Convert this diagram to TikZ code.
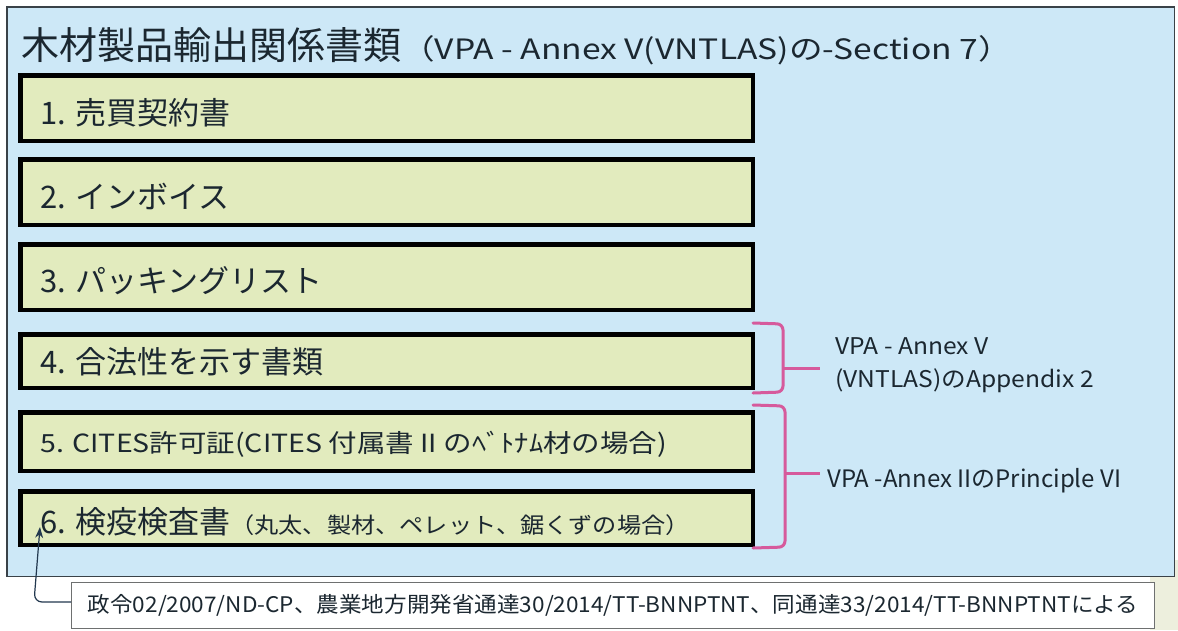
\documentclass[tikz,border=0pt]{standalone}
\usepackage{fontspec}
\setmainfont{Noto Sans CJK JP}
\newfontfamily\widetitle[FakeStretch=1.2]{Noto Sans CJK JP}
\newfontfamily\widefive[FakeStretch=1.14]{Noto Sans CJK JP}
\newfontfamily\widesix[FakeStretch=1.1]{Noto Sans CJK JP}
\newfontfamily\widenote[FakeStretch=1.05]{Noto Sans CJK JP}
\newfontfamily\wideref[FakeStretch=1.07]{Noto Sans CJK JP}
\usetikzlibrary{arrows.meta}
\definecolor{panelblue}{HTML}{CDE8F7}
\definecolor{boxfill}{HTML}{E2EBBE}
\definecolor{pinkline}{HTML}{D65A9C}
\definecolor{textdark}{HTML}{1B2730}
\definecolor{panelframe}{HTML}{3A4248}
\definecolor{arrowblue}{HTML}{22384F}
\definecolor{notegray}{HTML}{6E7070}
\definecolor{beigebg}{HTML}{EDEFDD}
\begin{document}
\begin{tikzpicture}[x=1pt,y=-1pt,
  docbox/.style={draw=black, line width=4.5pt, fill=boxfill, inner sep=0pt, minimum width=732.5pt},
  doctext/.style={anchor=base west, inner sep=0pt, text=textdark, font=\fontsize{31}{36}\selectfont},
  bracketline/.style={draw=pinkline, line width=3pt, line cap=round, rounded corners=6pt},
  reftext/.style={anchor=base west, inner sep=0pt, text=textdark, font=\wideref\fontsize{23}{28}\selectfont},
  notebox/.style={draw=notegray, fill=white, line width=1.2pt, inner sep=0pt, text=textdark, font=\widenote\fontsize{21.5}{26}\selectfont}]
\fill[white] (0,0) rectangle (1178,630);
\useasboundingbox (0,0) rectangle (1178,630);
\fill[beigebg] (1150,560) rectangle (1178,630);
% panel
\draw[fill=panelblue, draw=panelframe, line width=1.5pt] (6.75,6.75) rectangle (1174.25,576.25);
% title
\node[anchor=base west, inner sep=0pt, text=textdark, font=\fontsize{38}{44}\selectfont] (title) at (21,59)
  {木材製品輸出関係書類{\widetitle\fontsize{28}{32}\selectfont （VPA - Annex V(VNTLAS)の-Section 7）}};
% boxes
\node[docbox, minimum height=65.5pt] (b1) at (386.5,108) {};
\node[docbox, minimum height=65.5pt] (b2) at (386.5,192) {};
\node[docbox, minimum height=65.5pt] (b3) at (386.5,277) {};
\node[docbox, minimum height=53.5pt] (b4) at (386.5,361) {};
\node[docbox, minimum height=58.5pt] (b5) at (386.5,441.5) {};
\node[docbox, minimum height=53.5pt] (b6) at (386.5,518) {};
% box texts
\node[doctext] (t1) at (40,124.5) {1. 売買契約書};
\node[doctext] (t2) at (40,208.5) {2. インボイス};
\node[doctext] (t3) at (40,292) {3. パッキングリスト};
\node[doctext] (t4) at (40,373.5) {4. 合法性を示す書類};
\node[doctext, font=\widefive\fontsize{25}{30}\selectfont] (t5) at (40,452.5) {5. CITES許可証(CITES 付属書 II のﾍﾞﾄﾅﾑ材の場合)};
\node[doctext] (t6) at (40,533) {6. 検疫検査書{\widesix\fontsize{22}{26}\selectfont （丸太、製材、ペレット、鋸くずの場合）}};
% brackets
\draw[bracketline] (753,323) -- (783,324) -- (783,392) -- (753,393);
\draw[pinkline, line width=3pt] (783,368) -- (820,368);
\draw[bracketline] (753,405) -- (785,406) -- (785,547) -- (753,548);
\draw[pinkline, line width=3pt] (785,473) -- (820,473);
\node[reftext] (r1a) at (835,354) {VPA - Annex V};
\node[reftext] (r1b) at (835,387) {(VNTLAS)のAppendix 2};
\node[reftext, font=\fontsize{24}{28}\selectfont] (r2) at (827,487) {VPA -Annex IIのPrinciple VI};
% note
\node[notebox, minimum width=1082.8pt, minimum height=45.8pt] (note) at (613,605.5)
  {政令02/2007/ND-CP、農業地方開発省通達30/2014/TT-BNNPTNT、同通達33/2014/TT-BNNPTNTによる};
\coordinate (tip) at (40,527);
\draw[arrowblue, line width=1.2pt, rounded corners=8pt, -{Stealth[length=11pt,width=8pt]}]
  ([yshift=3.5pt]note.west) -- (34,602) -- (tip);
\end{tikzpicture}
\end{document}
